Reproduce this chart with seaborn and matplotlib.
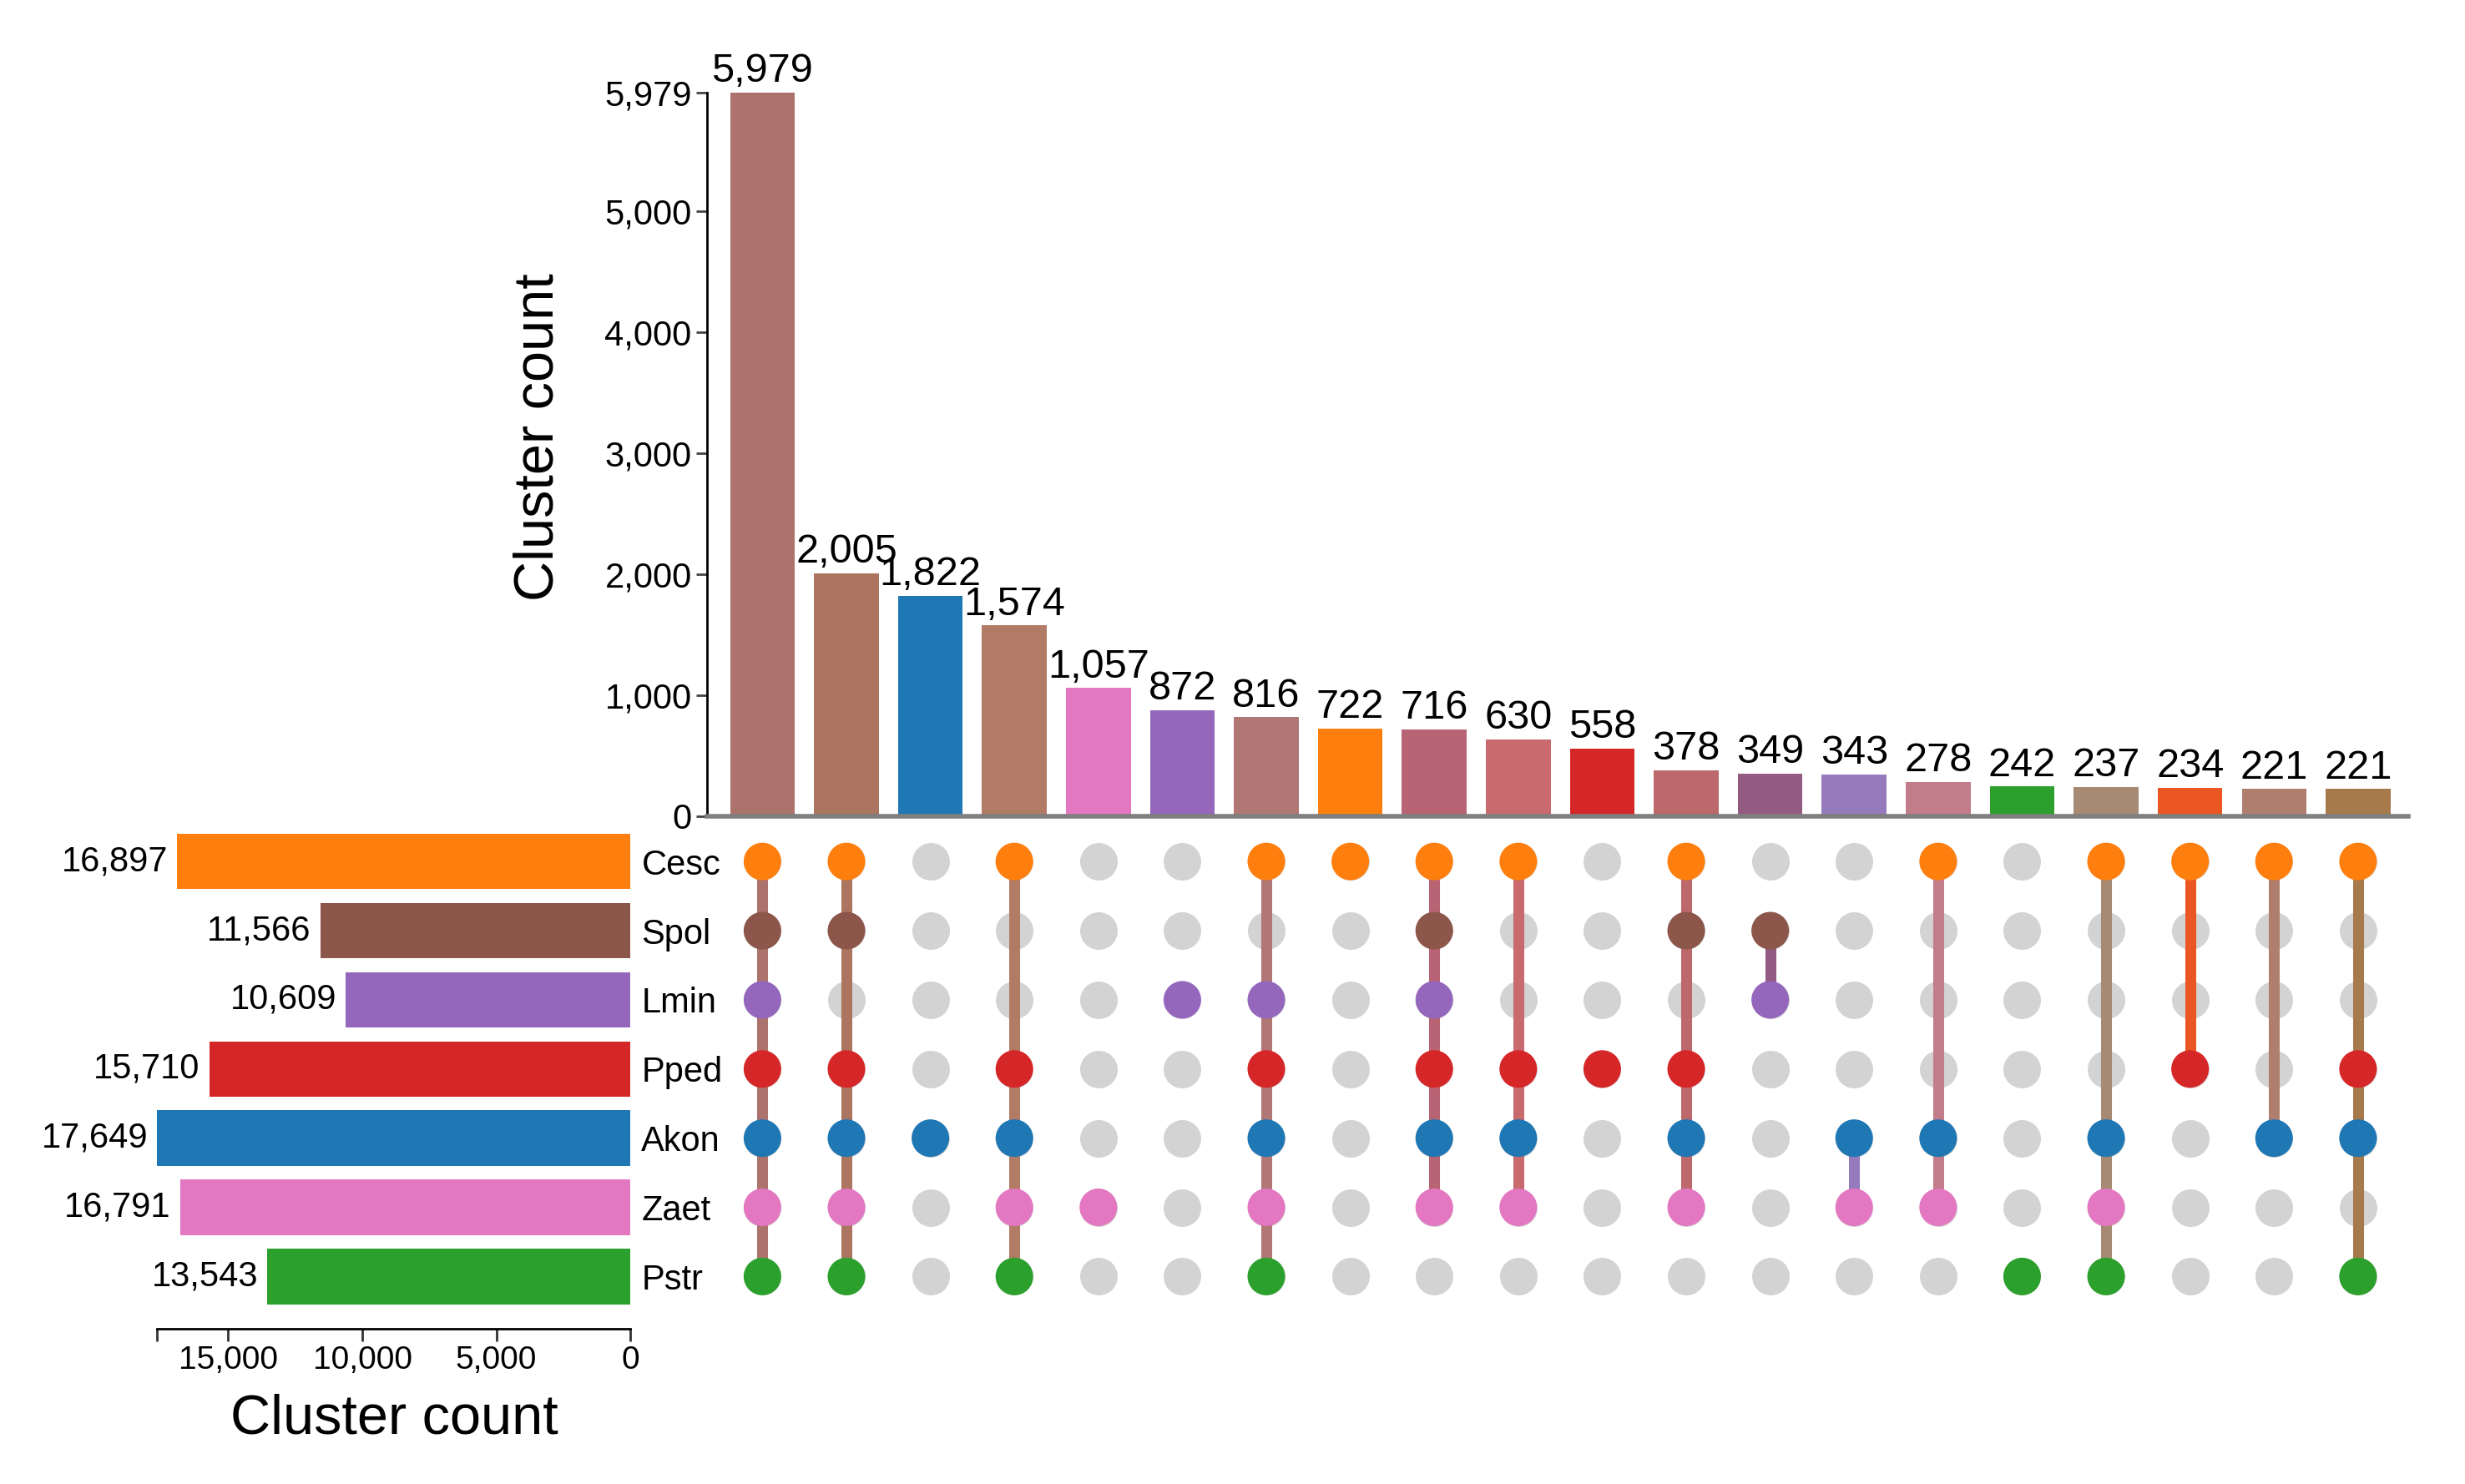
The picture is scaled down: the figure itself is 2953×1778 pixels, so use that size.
import numpy as np
import pandas as pd
import matplotlib
matplotlib.use("Agg")
import matplotlib.pyplot as plt
import seaborn as sns

# ---------------- data ----------------
sets = ["Cesc", "Spol", "Lmin", "Pped", "Akon", "Zaet", "Pstr"]
set_sizes = [16897, 11566, 10609, 15710, 17649, 16791, 13543]
set_colors = ["#ff7f0e", "#8c564b", "#9467bd", "#d62728", "#1f77b4", "#e377c2", "#2ca02c"]

inter_counts = [5979, 2005, 1822, 1574, 1057, 872, 816, 722, 716, 630,
                558, 378, 349, 343, 278, 242, 237, 234, 221, 221]
inter_members = [
    ["Cesc", "Spol", "Lmin", "Pped", "Akon", "Zaet", "Pstr"],
    ["Cesc", "Spol", "Pped", "Akon", "Zaet", "Pstr"],
    ["Akon"],
    ["Cesc", "Pped", "Akon", "Zaet", "Pstr"],
    ["Zaet"],
    ["Lmin"],
    ["Cesc", "Lmin", "Pped", "Akon", "Zaet", "Pstr"],
    ["Cesc"],
    ["Cesc", "Spol", "Lmin", "Pped", "Akon", "Zaet"],
    ["Cesc", "Pped", "Akon", "Zaet"],
    ["Pped"],
    ["Cesc", "Spol", "Pped", "Akon", "Zaet"],
    ["Spol", "Lmin"],
    ["Akon", "Zaet"],
    ["Cesc", "Akon", "Zaet"],
    ["Pstr"],
    ["Cesc", "Akon", "Zaet", "Pstr"],
    ["Cesc", "Pped"],
    ["Cesc", "Akon"],
    ["Cesc", "Pped", "Akon", "Pstr"],
]
inter_colors = ["#ac726c", "#ab7560", "#1f77b4", "#b27b66", "#e377c2",
                "#9467bd", "#b07774", "#ff7f0e", "#b86474", "#c86a6e",
                "#d62728", "#bd686b", "#945b82", "#957bbb", "#c27c8a",
                "#2ca02c", "#a68a73", "#eb5722", "#b07e6f", "#a77a4c"]

# ---------------- style ----------------
sns.set_style("white")
plt.rcParams["font.family"] = ["Liberation Sans", "DejaVu Sans"]
plt.rcParams["text.color"] = "black"
plt.rcParams["axes.labelcolor"] = "black"
plt.rcParams["xtick.labelcolor"] = "black"
plt.rcParams["ytick.labelcolor"] = "black"

fig = plt.figure(figsize=(29.53, 17.78), dpi=100)
W, H = 1568, 944


def rect(x0, y0, x1, y1):
    return [x0 / W, 1 - y1 / H, (x1 - x0) / W, (y1 - y0) / H]


ax_top = fig.add_axes(rect(450, 59, 1532, 519))
ax_mat = fig.add_axes(rect(450, 526, 1532, 834))
ax_left = fig.add_axes(rect(100, 526, 401, 845))

n = len(inter_counts)
ids = [f"i{k}" for k in range(n)]
xlim = (-0.655, n - 1 + 0.6)

# ---------------- top intersection bars ----------------
df_top = pd.DataFrame({"id": ids, "count": inter_counts})
sns.barplot(data=df_top, x="id", y="count", hue="id", order=ids,
            palette=dict(zip(ids, inter_colors)), width=0.77, saturation=1,
            legend=False, ax=ax_top, edgecolor="none")
ax_top.set_xlim(*xlim)
ymax = max(inter_counts)
ax_top.set_ylim(0, ymax)
for k, v in enumerate(inter_counts):
    ax_top.annotate(f"{v:,}", (k, v), xytext=(0, 2), textcoords="offset points",
                    ha="center", va="bottom", fontsize=35, color="black",
                    annotation_clip=False)
yt = [0, 1000, 2000, 3000, 4000, 5000, ymax]
ax_top.set_yticks(yt)
ax_top.set_yticklabels([f"{t:,}" for t in yt])
ax_top.tick_params(axis="y", length=9.5, width=2, color="#444444", labelcolor="black",
                   labelsize=30, pad=4, left=True)
ax_top.tick_params(axis="x", length=0, labelbottom=False)
ax_top.set_xlabel("")
ax_top.set_ylabel("")
for s in ["top", "right"]:
    ax_top.spines[s].set_visible(False)
ax_top.spines["left"].set_color("black")
ax_top.spines["left"].set_linewidth(2)
ax_top.spines["bottom"].set_color("#7f7f7f")
ax_top.spines["bottom"].set_linewidth(4)

# ---------------- matrix ----------------
grid = pd.DataFrame([(c, r) for c in range(n) for r in range(len(sets))], columns=["col", "row"])
sns.scatterplot(data=grid, x="col", y="row", color="#d3d3d3", s=1050, linewidth=0,
                ax=ax_mat, zorder=1)
pts = []
for c, mem in enumerate(inter_members):
    rows = [sets.index(m) for m in mem]
    if len(rows) > 1:
        ax_mat.vlines(c, min(rows), max(rows), color=inter_colors[c], lw=9.4, zorder=2)
    for m in mem:
        pts.append((c, sets.index(m), m))
df_pts = pd.DataFrame(pts, columns=["col", "row", "set"])
sns.scatterplot(data=df_pts, x="col", y="row", hue="set", palette=dict(zip(sets, set_colors)),
                s=1050, linewidth=0, legend=False, ax=ax_mat, zorder=3)
ax_mat.set_xlim(*xlim)
ax_mat.set_ylim(6.5, -0.5)
ax_mat.axis("off")

# ---------------- left set-size bars ----------------
df_left = pd.DataFrame({"set": sets, "size": set_sizes})
sns.barplot(data=df_left, y="set", x="size", hue="set", order=sets,
            palette=dict(zip(sets, set_colors)), orient="h", width=0.8, saturation=1,
            legend=False, ax=ax_left, edgecolor="none")
smax = max(set_sizes)
ax_left.set_xlim(smax, 0)
ax_left.set_ylim(6.75, -0.5)
ax_left.yaxis.tick_right()
ax_left.tick_params(axis="y", length=0, pad=9.5, labelsize=30, labelcolor="black")
xt = [smax, 15000, 10000, 5000, 0]
ax_left.set_xticks(xt)
ax_left.set_xticklabels(["", "15,000", "10,000", "5,000", "0"])
ax_left.tick_params(axis="x", length=11, width=2, color="#333333", labelcolor="black",
                    labelsize=28, pad=4, bottom=True)
ax_left.set_xlabel("")
ax_left.set_ylabel("")
for s in ["top", "right", "left"]:
    ax_left.spines[s].set_visible(False)
ax_left.spines["bottom"].set_color("black")
ax_left.spines["bottom"].set_linewidth(2)
for i, v in enumerate(set_sizes):
    ax_left.annotate(f"{v:,}", (v, i), xytext=(-8, 0), textcoords="offset points",
                     ha="right", va="center", fontsize=30, color="black",
                     annotation_clip=False)

# ---------------- axis titles ----------------
fig.text(343 / W, 1 - 278 / H, "Cluster count", rotation=90, ha="center", va="center",
         fontsize=48, color="black")
fig.text(251 / W, 1 - 903 / H, "Cluster count", ha="center", va="center",
         fontsize=48, color="black")

fig.savefig("out.png", dpi=100)
